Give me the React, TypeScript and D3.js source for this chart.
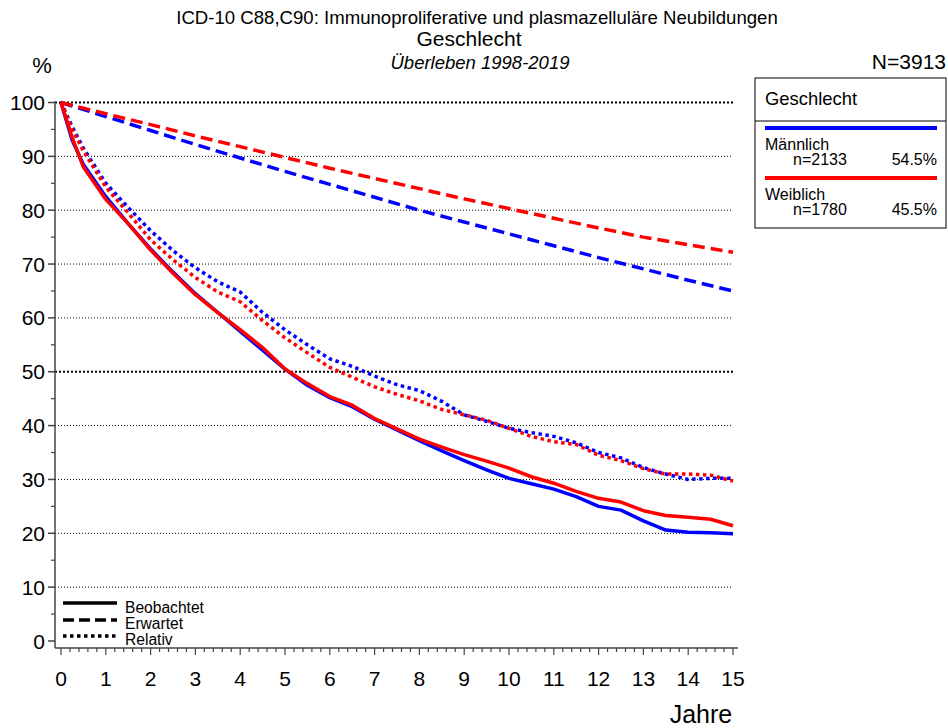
import React from 'react';
import * as d3 from 'd3';

const years = [0, 0.25, 0.5, 1, 1.5, 2, 2.5, 3, 3.5, 4, 4.5, 5, 5.5, 6, 6.5, 7, 7.5, 8, 8.5, 9, 9.5, 10, 10.5, 11, 11.5, 12, 12.5, 13, 13.5, 14, 14.5, 15];
const maleObserved = [100, 93, 88.5, 82.5, 77.5, 72.8, 68.5, 64.5, 61, 57.5, 54, 50.5, 47.5, 45.2, 43.5, 41.2, 39.2, 37.2, 35.3, 33.5, 31.8, 30.2, 29.2, 28.2, 26.8, 25, 24.3, 22.3, 20.6, 20.2, 20.1, 19.9];
const femaleObserved = [100, 93.5, 88, 82, 77.5, 72.6, 68.3, 64.3, 61, 57.8, 54.5, 50.5, 47.8, 45.4, 43.8, 41.3, 39.4, 37.5, 36, 34.6, 33.4, 32.1, 30.5, 29.3, 27.8, 26.5, 25.8, 24.2, 23.3, 23, 22.6, 21.4];
const maleRelative = [100, 95.5, 91.5, 85, 80.5, 76.2, 72.5, 69.3, 66.7, 64.8, 61, 57.8, 55, 52.4, 51, 49.2, 47.6, 46.5, 44.5, 42, 40.8, 39.5, 38.7, 38, 36.8, 35, 34, 32.2, 31, 30, 30.2, 30.2];
const femaleRelative = [100, 95, 91, 84.3, 79.5, 74.5, 70.8, 67.5, 64.8, 63, 59.5, 56.3, 53.5, 50.8, 49, 47.2, 45.8, 44.6, 43, 42, 41, 39.5, 38, 37, 36.5, 34.5, 33.5, 32, 31, 31, 30.8, 29.7];

// expected survival
const expYears = [0, 1, 2, 3, 4, 5, 6, 7, 8, 9, 10, 11, 12, 13, 14, 15];
const maleExpected = [100, 97.4, 94.8, 92.2, 89.7, 87.2, 84.8, 82.4, 80.0, 77.8, 75.6, 73.4, 71.2, 69.1, 67.0, 65.0];
const femaleExpected = [100, 97.9, 95.9, 93.8, 91.8, 89.8, 87.8, 85.9, 84.0, 82.1, 80.3, 78.5, 76.7, 75.0, 73.6, 72.2];

const xTicks = d3.range(0, 16);
const yTicks = d3.range(0, 101, 10);

const BLUE = '#0000ff';
const RED = '#ff0000';
const FONT = 'Liberation Sans, Arial, sans-serif';

export default function App() {
  const width = 948, height = 728;
  const x = d3.scaleLinear().domain([0, 15]).range([61, 733]);
  const y = d3.scaleLinear().domain([0, 100]).range([641, 102.5]);
  const axisX = 55, axisY = 648;

  const line = (xs: number[], vs: number[]) =>
    d3.line<number>().x((_, i) => x(xs[i])).y((d) => y(d))(vs) || '';

  const series = [
    { xs: years, vs: maleObserved, color: BLUE, dash: undefined },
    { xs: expYears, vs: maleExpected, color: BLUE, dash: '12,6' },
    { xs: years, vs: maleRelative, color: BLUE, dash: '3.5,3.5' },
    { xs: years, vs: femaleObserved, color: RED, dash: undefined },
    { xs: expYears, vs: femaleExpected, color: RED, dash: '12,6' },
    { xs: years, vs: femaleRelative, color: RED, dash: '3.5,3.5' },
  ];

  const minorX = d3.range(0, 15.01, 0.2);
  const minorY = d3.range(5, 100, 10);

  return (
    <svg width={width} height={height} style={{ position: 'absolute', left: 0, top: 0, background: '#fff' }} fontFamily={FONT}>
      <text x={477} y={24} textAnchor="middle" fontSize={18.6}>ICD-10 C88,C90: Immunoproliferative und plasmazelluläre Neubildungen</text>
      <text x={469} y={46} textAnchor="middle" fontSize={21}>Geschlecht</text>
      <text x={480} y={69} textAnchor="middle" fontSize={18.5} fontStyle="italic">Überleben 1998-2019</text>
      <text x={42} y={73} textAnchor="middle" fontSize={22}>%</text>
      <text x={946} y={69} textAnchor="end" fontSize={21}>N=3913</text>

      {/* gridlines */}
      {yTicks.filter((t) => t > 0).map((t) => {
        const bold = t === 50 || t === 100;
        return (
          <line key={'g' + t} x1={axisX} x2={733} y1={y(t)} y2={y(t)} stroke="#000"
            strokeWidth={bold ? 2 : 1} strokeDasharray={bold ? '2,2' : '1,2'} />
        );
      })}

      {/* axes */}
      <line x1={axisX} x2={axisX} y1={y(100) - 1} y2={axisY} stroke="#444" strokeWidth={1.5} />
      <line x1={axisX} x2={738} y1={axisY} y2={axisY} stroke="#444" strokeWidth={1.5} />
      {yTicks.map((t) => (
        <g key={'y' + t}>
          <line x1={axisX - 7} x2={axisX} y1={y(t)} y2={y(t)} stroke="#444" strokeWidth={1.5} />
          <text x={45} y={y(t) + 7.5} textAnchor="end" fontSize={21}>{t}</text>
        </g>
      ))}
      {minorY.map((t) => (
        <line key={'my' + t} x1={axisX - 4} x2={axisX} y1={y(t)} y2={y(t)} stroke="#444" strokeWidth={1.2} />
      ))}
      {minorX.map((t, i) => (
        <line key={'mx' + i} x1={x(t)} x2={x(t)} y1={axisY} y2={axisY + (i % 5 === 0 ? 7 : 4)} stroke="#444" strokeWidth={1.2} />
      ))}
      {xTicks.map((t) => (
        <text key={'x' + t} x={x(t)} y={686} textAnchor="middle" fontSize={21}>{t}</text>
      ))}
      <text x={701} y={723} textAnchor="middle" fontSize={25}>Jahre</text>

      {/* curves */}
      {series.map((s, i) => (
        <path key={'s' + i} d={line(s.xs, s.vs)} fill="none" stroke={s.color} strokeWidth={3.5}
          strokeDasharray={s.dash} strokeLinejoin="round" />
      ))}

      {/* line style legend */}
      <line x1={63} x2={117} y1={603} y2={603} stroke="#000" strokeWidth={3.5} />
      <line x1={63} x2={117} y1={620} y2={620} stroke="#000" strokeWidth={3.5} strokeDasharray="11,5" />
      <line x1={63} x2={117} y1={636} y2={636} stroke="#000" strokeWidth={3.5} strokeDasharray="3.5,3.5" />
      <text x={125} y={613} fontSize={15.6}>Beobachtet</text>
      <text x={125} y={629} fontSize={15.6}>Erwartet</text>
      <text x={125} y={645} fontSize={15.6}>Relativ</text>

      {/* group legend */}
      <rect x={755} y={78} width={191} height={150} fill="none" stroke="#000" strokeWidth={1} />
      <line x1={755} x2={946} y1={121} y2={121} stroke="#000" strokeWidth={1} />
      <text x={765} y={105} fontSize={18.4}>Geschlecht</text>
      <line x1={765} x2={937} y1={128} y2={128} stroke={BLUE} strokeWidth={4} />
      <text x={765} y={150} fontSize={16}>Männlich</text>
      <text x={793} y={165} fontSize={16}>n=2133</text>
      <text x={937} y={165} fontSize={16} textAnchor="end">54.5%</text>
      <line x1={765} x2={937} y1={178} y2={178} stroke={RED} strokeWidth={4} />
      <text x={765} y={200} fontSize={16}>Weiblich</text>
      <text x={793} y={215} fontSize={16}>n=1780</text>
      <text x={937} y={215} fontSize={16} textAnchor="end">45.5%</text>
    </svg>
  );
}
